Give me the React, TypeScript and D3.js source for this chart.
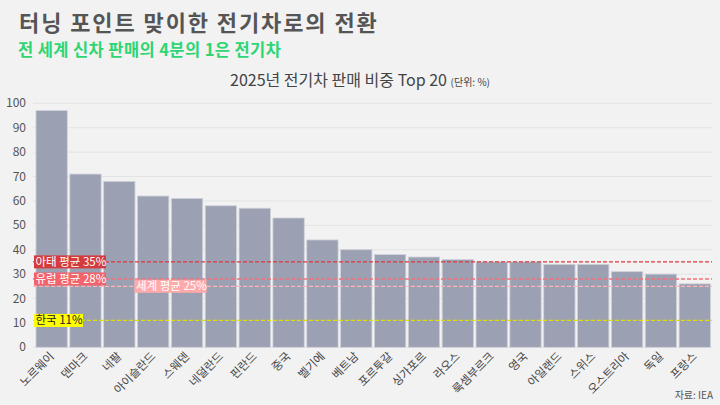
import React from 'react';
import * as d3 from 'd3';

// 국가별 2025년 전기차 판매 비중 (%)
const countries = [
  '노르웨이', '덴마크', '네팔', '아이슬란드', '스웨덴', '네덜란드', '핀란드', '중국', '벨기에', '베트남',
  '포르투갈', '싱가포르', '라오스', '룩셈부르크', '영국', '아일랜드', '스위스', '오스트리아', '독일', '프랑스',
];
const shares = [97, 71, 68, 62, 61, 58, 57, 53, 44, 40, 38, 37, 36, 35, 35, 34, 34, 31, 30, 26];
const yTicks = [0, 10, 20, 30, 40, 50, 60, 70, 80, 90, 100];

// 평균선
const refNames = ['아태 평균 35%', '유럽 평균 28%', '세계 평균 25%', '한국 11%'];
const refValues = [35, 28, 25, 11];

const width = 720;
const height = 405;
const font = '"Noto Sans CJK KR", "Noto Sans", sans-serif';

const refStyle = [
  { line: '#d93a3f', box: '#d43b3e', text: '#ffffff', at: 0, w: 72 },
  { line: '#f4707a', box: '#f2636b', text: '#ffffff', at: 0, w: 72 },
  { line: '#ffb3b3', box: '#ffaaaa', text: '#ffffff', at: 3, w: 72 },
  { line: '#e0e000', box: '#ffff00', text: '#222222', at: 0, w: 49 },
];

const App: React.FC = () => {
  const x = d3.scaleBand<string>()
    .domain(countries)
    .range([34.7, 711.7])
    .paddingInner(0.075)
    .paddingOuter(0.0375);

  const y = d3.scaleLinear()
    .domain([0, 100])
    .range([347.3, 103.3]);

  const left = 33;
  const right = 712;

  return (
    <svg width={width} height={height} style={{ position: 'absolute', left: 0, top: 0, fontFamily: font }}>
      <rect width={width} height={height} fill="#f2f2f2" />

      {/* 제목 */}
      <text x={19} y={31} fontSize={22} fontWeight={700} fill="#555555" letterSpacing={1.9}>
        터닝 포인트 맞이한 전기차로의 전환
      </text>
      <text x={18} y={56} fontSize={16.5} fontWeight={700} fill="#2ed573" letterSpacing={0.4}>
        전 세계 신차 판매의 4분의 1은 전기차
      </text>
      <text x={360} y={86} fontSize={16} fill="#444444" textAnchor="middle">
        2025년 전기차 판매 비중 Top 20 <tspan fontSize={10}>(단위: %)</tspan>
      </text>

      {/* 그리드 */}
      {yTicks.map(t => (
        <g key={t}>
          <line x1={left} x2={right} y1={y(t)} y2={y(t)} stroke="#e3e3e3" strokeWidth={1} />
          <text x={26} y={y(t) + 4} fontSize={12} fill="#555555" textAnchor="end">{t}</text>
        </g>
      ))}

      {/* 막대 */}
      {countries.map((c, i) => (
        <rect
          key={c}
          x={x(c)}
          y={y(shares[i])}
          width={x.bandwidth()}
          height={y(0) - y(shares[i])}
          fill="#9ca0b3"
          stroke="#cfd1da"
          strokeWidth={0.8}
        />
      ))}

      {/* x축 라벨 */}
      {countries.map(c => (
        <text
          key={c}
          transform={`translate(${(x(c) ?? 0) + x.bandwidth() / 2 + 3},${357}) rotate(-45)`}
          fontSize={11.5}
          fill="#444444"
          textAnchor="end"
        >
          {c}
        </text>
      ))}

      {/* 평균선 */}
      {refValues.map((v, i) => (
        <line
          key={'l' + i}
          x1={left}
          x2={right}
          y1={y(v)}
          y2={y(v)}
          stroke={refStyle[i].line}
          strokeWidth={1.3}
          strokeDasharray="4,2"
        />
      ))}
      {refValues.map((v, i) => {
        const bx = refStyle[i].at === 0 ? left + 1 : (x(countries[refStyle[i].at]) ?? 0) - 3;
        return (
          <g key={'b' + i}>
            <rect x={bx} y={y(v) - 6.5} width={refStyle[i].w} height={13} fill={refStyle[i].box} />
            <text x={bx + 1.5} y={y(v) + 4} fontSize={11.5} fill={refStyle[i].text}>{refNames[i]}</text>
          </g>
        );
      })}

      <text x={713} y={399} fontSize={10} fill="#555555" textAnchor="end">자료: IEA</text>
    </svg>
  );
};

export default App;
